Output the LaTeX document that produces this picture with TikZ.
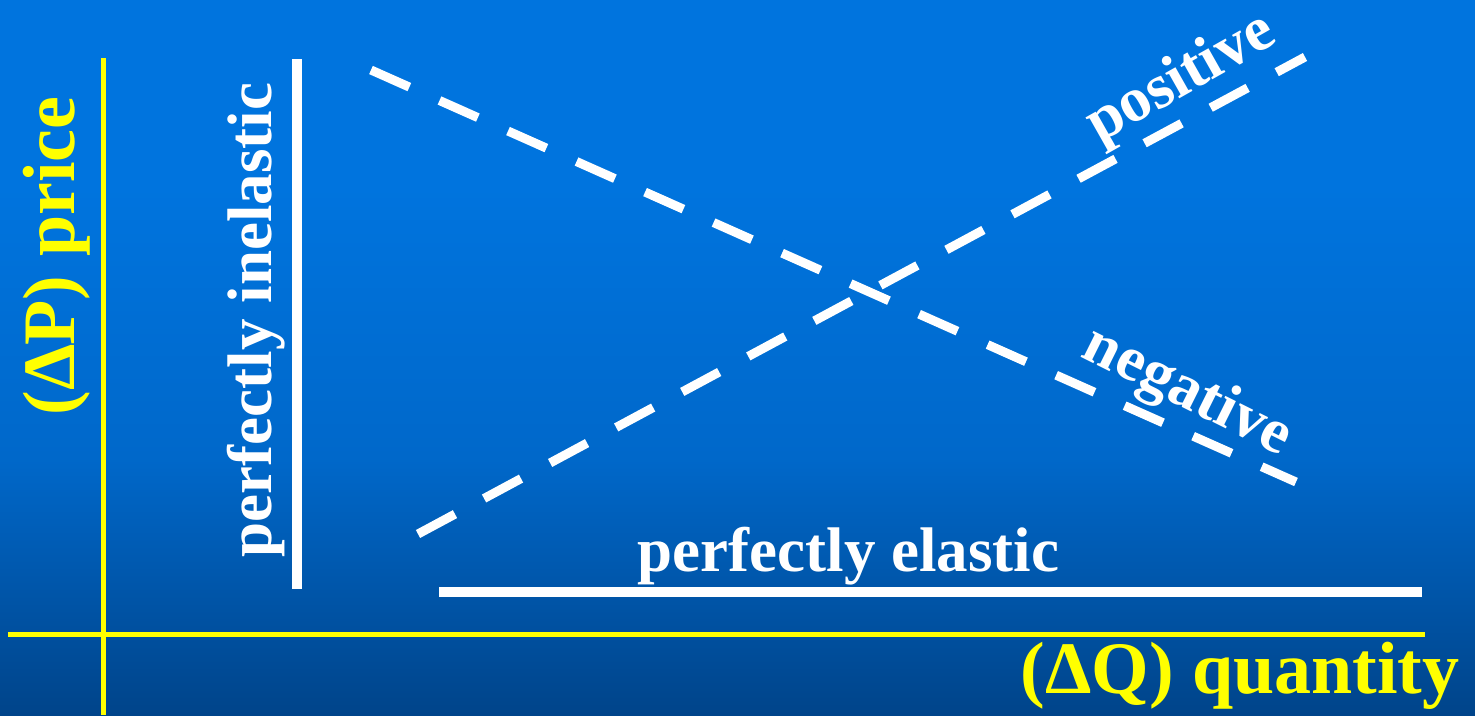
\documentclass[tikz,border=0pt]{standalone}
\usepackage{fontspec}
\setmainfont{Liberation Serif}
\definecolor{bgtop}{RGB}{0,116,222}
\definecolor{bgmid}{RGB}{0,104,202}
\definecolor{bgbot}{RGB}{0,68,138}
\definecolor{axisyellow}{RGB}{255,255,0}
\pgfdeclareverticalshading{bgshade}{100bp}{color(0bp)=(bgbot); color(25bp)=(bgbot); color(43bp)=(bgmid); color(62bp)=(bgtop); color(100bp)=(bgtop)}
\tikzset{
  axisline/.style={draw=axisyellow, line width=5pt},
  curveline/.style={draw=white, line width=10pt},
  dashline/.style={draw=white, line width=9pt, dash pattern=on 42pt off 33pt},
  biglabel/.style={text=axisyellow, inner sep=0pt, anchor=base, font=\fontsize{74}{74}\selectfont\bfseries},
  smalllabel/.style={text=white, inner sep=0pt, anchor=base, font=\fontsize{63}{63}\selectfont\bfseries}
}
\begin{document}
\begin{tikzpicture}[x=1pt,y=-1pt]
\useasboundingbox (0,0) rectangle (1475,715);
\shade[shading=bgshade] (0,0) rectangle (1475,715);
% axes
\coordinate (ytop) at (103,58);
\coordinate (ybot) at (103,715);
\coordinate (xl) at (8,634);
\coordinate (xr) at (1425,634);
\draw[axisline] (ytop) -- (ybot);
\draw[axisline] (xl) -- (xr);
% perfectly inelastic
\coordinate (vt) at (296.5,59);
\coordinate (vb) at (296.5,589);
\draw[curveline] (vt) -- (vb);
% perfectly elastic
\coordinate (hl) at (439,591.5);
\coordinate (hr) at (1422,591.5);
\draw[curveline] (hl) -- (hr);
% negative
\coordinate (ns) at (371,70);
\coordinate (ne) at (1296,482);
\draw[dashline] (ns) -- (ne);
% positive
\coordinate (ps) at (418,534);
\coordinate (pe) at (1305,57);
\draw[dashline] (ps) -- (pe);
% labels
\node[biglabel, rotate=90] (plabel) at (74,256) {(Δ\kern-1pt P) price};
\node[biglabel] (qlabel) at (1240,693) {(ΔQ) quantity};
\node[smalllabel, rotate=90] (inel) at (271,320) {perfectly inelastic};
\node[smalllabel] (el) at (848.5,571) {perfectly elastic};
\node[smalllabel, rotate=29.5] (pos) at (1189,93) {positive};
\node[smalllabel, rotate=-26.5] (neg) at (1180,406) {negative};
\end{tikzpicture}
\end{document}
